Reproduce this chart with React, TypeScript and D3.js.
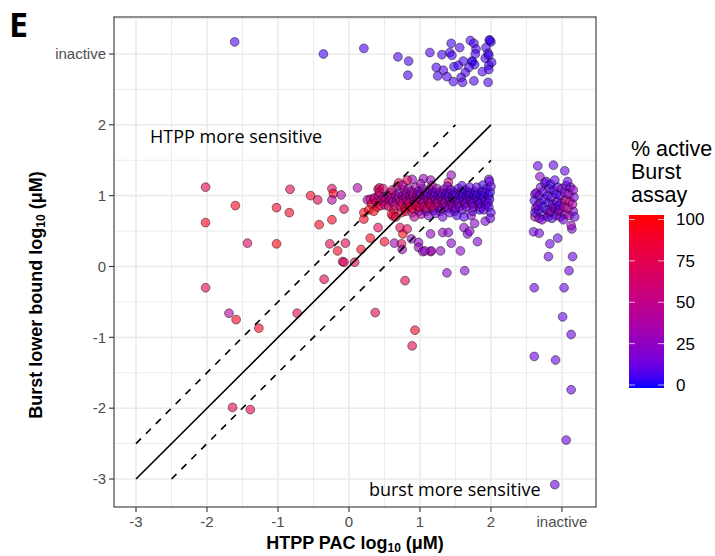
import React from "react";
import * as d3 from "d3";

type P = [number, number, number];

// x, y (log10 µM; 3 = inactive), % active in Burst assay
const topInactive: P[] = [
  [-1.61, 3.17, 6], [-0.36, 3.0, 5], [0.21, 3.08, 5], [0.69, 2.96, 6], [0.84, 2.9, 6],
  [0.83, 2.7, 6], [1.14, 3.02, 7], [1.31, 2.99, 6], [1.23, 2.81, 6], [1.33, 2.77, 7],
  [1.25, 2.69, 6], [1.38, 2.68, 7], [1.42, 3.02, 5], [1.44, 3.15, 4], [1.45, 2.98, 5],
  [1.56, 3.09, 6], [1.48, 2.82, 4], [1.54, 2.84, 5], [1.61, 2.9, 6], [1.64, 2.74, 7],
  [1.58, 2.67, 6], [1.47, 2.61, 7], [1.6, 2.6, 7], [1.71, 3.19, 7], [1.76, 3.15, 5],
  [1.79, 3.07, 6], [1.78, 3.0, 7], [1.74, 2.89, 3], [1.73, 2.9, 3], [1.77, 2.85, 4],
  [1.69, 2.81, 6], [1.76, 2.62, 7], [1.88, 2.75, 6], [1.92, 2.94, 6], [1.93, 3.09, 5],
  [1.98, 3.19, 3], [2.0, 3.17, 3], [1.98, 3.2, 4], [1.96, 3.01, 5], [1.97, 2.98, 4],
  [2.01, 2.88, 4], [1.97, 2.84, 4], [1.97, 2.78, 5], [1.96, 2.6, 7],
];

const rightInactive: P[] = [
  [2.66, 1.42, 12], [2.88, 1.43, 12], [3.04, 1.35, 12], [2.69, 1.27, 22], [2.62, 1.02, 15],
  [2.6, 0.49, 14], [2.68, 0.47, 14], [2.83, 0.32, 12], [2.94, 0.4, 12], [2.81, 0.14, 12],
  [3.15, 0.14, 12], [3.1, -0.06, 12], [2.61, -0.3, 12], [3.03, -0.3, 12], [3.01, -0.71, 12],
  [3.13, -0.96, 12], [2.61, -1.27, 12], [2.91, -1.32, 12], [3.13, -1.74, 12], [3.06, -2.45, 12],
  [2.9, -3.08, 12], [3.14, 0.53, 18], [3.13, 0.58, 28],
  [2.62, 0.7, 40], [2.63, 0.82, 12], [2.61, 0.93, 8], [2.64, 1.04, 18], [2.62, 0.76, 8],
  [2.68, 0.68, 12], [2.67, 0.8, 8], [2.69, 0.9, 5], [2.68, 1.0, 12], [2.7, 1.12, 18], [2.66, 0.86, 22],
  [2.74, 0.72, 8], [2.73, 0.84, 5], [2.75, 0.95, 8], [2.74, 1.06, 12], [2.76, 1.18, 10], [2.72, 0.66, 18],
  [2.8, 0.7, 12], [2.79, 0.8, 8], [2.81, 0.9, 5], [2.8, 1.0, 8], [2.82, 1.1, 12], [2.78, 1.2, 10], [2.83, 0.76, 30],
  [2.86, 0.68, 8], [2.85, 0.78, 18], [2.87, 0.88, 5], [2.86, 0.98, 12], [2.88, 1.08, 8], [2.84, 1.16, 5], [2.88, 0.83, 40],
  [2.92, 0.72, 12], [2.91, 0.82, 8], [2.93, 0.92, 18], [2.92, 1.02, 5], [2.94, 1.12, 12], [2.9, 1.22, 10], [2.95, 0.78, 22],
  [2.98, 0.7, 18], [2.97, 0.8, 30], [2.99, 0.9, 12], [2.98, 1.0, 8], [3.0, 1.1, 18], [2.96, 0.86, 8],
  [3.04, 0.74, 22], [3.03, 0.84, 40], [3.05, 0.94, 50], [3.04, 1.04, 18], [3.06, 1.14, 12], [3.02, 0.66, 12],
  [3.1, 0.72, 35], [3.09, 0.82, 45], [3.11, 0.92, 55], [3.1, 1.02, 28], [3.12, 1.12, 18], [3.08, 1.2, 12],
  [3.16, 0.78, 22], [3.15, 0.88, 35], [3.17, 0.98, 18], [3.16, 1.08, 22], [3.18, 0.7, 12],
];

const scattered: P[] = [
  [-2.02, 1.12, 75], [-2.02, 0.62, 95], [-2.02, -0.3, 75], [-1.6, 0.86, 95], [-1.43, 0.33, 70],
  [-1.02, 0.83, 92], [-1.02, 0.32, 97], [-0.84, 0.76, 93], [-0.83, 1.09, 72], [-0.54, 1.0, 92],
  [-0.44, 0.94, 70], [-0.24, 1.1, 65], [-0.22, 1.03, 95], [-0.11, 1.01, 42], [-0.24, 0.94, 42],
  [-0.07, 0.81, 72], [-0.42, 0.59, 95], [-0.24, 0.66, 92], [-0.27, 0.32, 72], [-0.05, 0.33, 72],
  [-0.16, 0.22, 95], [-0.09, 0.07, 65], [-0.35, -0.18, 72], [-1.69, -0.66, 40], [-1.59, -0.75, 95],
  [-1.27, -0.87, 95], [-0.73, -0.66, 75], [0.37, -0.65, 78], [0.79, -0.2, 75], [0.93, -0.9, 92],
  [0.89, -1.12, 78], [-1.64, -1.99, 72], [-1.39, -2.02, 78],
  [0.41, 1.09, 75], [0.26, 0.94, 38], [0.35, 0.95, 75], [0.21, 0.67, 95], [0.41, 0.55, 72],
  [0.62, 0.71, 92], [0.3, 0.4, 95], [0.5, 0.35, 92], [0.17, 0.24, 92], [0.08, 0.06, 72],
  [-0.07, 0.06, 72], [0.76, 0.46, 98], [0.72, 0.55, 72], [0.82, 0.53, 70], [0.64, 0.33, 30],
  [0.74, 0.32, 72], [0.88, 0.39, 25], [0.75, 0.24, 28], [0.98, 0.34, 25], [0.98, 0.27, 25],
  [1.04, 0.21, 25], [1.15, 0.46, 25], [1.15, 0.21, 60], [1.29, 0.22, 25], [1.32, 0.48, 25],
  [1.4, 0.48, 22], [1.44, 0.33, 22], [1.62, 0.55, 22], [1.67, 0.46, 18], [1.7, 0.5, 20],
  [1.81, 0.35, 18], [1.57, 0.22, 22], [1.38, -0.09, 20], [1.63, -0.06, 20], [0.89, 1.23, 28],
  [1.05, 1.24, 28], [1.15, 1.22, 28], [1.4, 1.19, 65], [1.44, 1.29, 28], [1.97, 1.23, 20],
  [1.92, 0.64, 18], [1.77, 0.61, 22], [1.72, 0.72, 20], [1.16, 0.22, 22], [1.07, 0.22, 25],
  [0.12, 1.11, 35], [0.43, 1.11, 72], [0.21, 0.76, 97],
];

const mainCluster: P[] = [
  [0.3, 0.95, 50], [0.32, 0.88, 85], [0.28, 0.8, 95],
  [0.36, 0.97, 50], [0.38, 0.9, 70], [0.35, 0.78, 97], [0.4, 0.84, 92],
  [0.42, 1.0, 40], [0.44, 0.93, 55], [0.45, 0.86, 78], [0.43, 1.05, 65],
  [0.49, 0.98, 35], [0.5, 0.92, 50], [0.52, 0.96, 70], [0.51, 0.87, 45], [0.48, 1.1, 60],
  [0.55, 1.0, 30], [0.57, 0.93, 45], [0.56, 0.85, 65], [0.58, 1.04, 50],
  [0.6, 0.97, 40], [0.62, 0.91, 35], [0.61, 1.08, 65], [0.63, 0.8, 78], [0.6, 0.74, 88],
  [0.66, 1.0, 45], [0.67, 0.94, 30], [0.65, 0.86, 55], [0.68, 1.13, 35], [0.66, 0.7, 72],
  [0.7, 0.98, 35], [0.72, 0.92, 50], [0.71, 1.04, 25], [0.73, 0.84, 70], [0.7, 1.18, 78], [0.74, 0.76, 85],
  [0.76, 1.0, 40], [0.77, 0.95, 30], [0.75, 0.89, 60], [0.78, 1.08, 45], [0.79, 0.82, 88], [0.76, 1.15, 35],
  [0.8, 0.98, 50], [0.82, 0.93, 35], [0.81, 1.03, 25], [0.83, 0.87, 75], [0.8, 0.78, 82], [0.84, 1.1, 40], [0.82, 1.22, 70],
  [0.86, 1.0, 30], [0.87, 0.95, 45], [0.85, 0.9, 60], [0.88, 1.06, 20], [0.86, 0.84, 80], [0.89, 0.76, 55],
  [0.9, 0.99, 40], [0.92, 0.94, 25], [0.91, 1.04, 50], [0.93, 0.88, 65], [0.9, 0.82, 88], [0.94, 1.12, 35], [0.92, 0.7, 45],
  [0.96, 1.0, 30], [0.97, 0.96, 45], [0.95, 0.91, 55], [0.98, 1.06, 20], [0.96, 0.85, 75], [0.99, 0.78, 30],
  [1.0, 0.99, 35], [1.02, 0.94, 50], [1.01, 1.03, 25], [1.03, 0.88, 60], [1.0, 0.83, 80], [1.04, 1.1, 20], [1.02, 0.74, 40], [1.01, 1.17, 30],
  [1.06, 1.0, 30], [1.07, 0.95, 20], [1.05, 0.9, 45], [1.08, 1.05, 35], [1.06, 0.84, 60], [1.09, 0.78, 15],
  [1.1, 0.98, 25], [1.12, 0.93, 40], [1.11, 1.03, 15], [1.13, 0.88, 55], [1.1, 0.82, 70], [1.14, 1.09, 30], [1.12, 0.72, 20],
  [1.16, 1.0, 20], [1.17, 0.95, 35], [1.15, 0.9, 50], [1.18, 1.06, 15], [1.16, 0.85, 65], [1.19, 0.79, 25], [1.17, 1.14, 40],
  [1.2, 0.99, 20], [1.22, 0.94, 30], [1.21, 1.04, 12], [1.23, 0.89, 45], [1.2, 0.83, 60], [1.24, 1.1, 25], [1.22, 0.75, 15],
  [1.26, 1.0, 15], [1.27, 0.95, 25], [1.25, 0.9, 40], [1.28, 1.05, 20], [1.26, 0.85, 55], [1.29, 0.78, 12],
  [1.3, 0.98, 15], [1.32, 0.93, 30], [1.31, 1.03, 12], [1.33, 0.88, 45], [1.3, 0.82, 20], [1.34, 1.09, 25], [1.32, 0.7, 15],
  [1.36, 1.0, 12], [1.37, 0.95, 20], [1.35, 0.9, 35], [1.38, 1.05, 15], [1.36, 0.84, 50], [1.39, 1.13, 20],
  [1.4, 0.98, 12], [1.42, 0.93, 25], [1.41, 1.03, 8], [1.43, 0.88, 30], [1.4, 0.82, 15], [1.44, 1.08, 20], [1.42, 0.76, 12],
  [1.46, 1.0, 12], [1.47, 0.95, 15], [1.45, 0.9, 25], [1.48, 1.05, 8], [1.46, 0.84, 35], [1.49, 0.78, 12],
  [1.5, 0.98, 8], [1.52, 0.93, 20], [1.51, 1.03, 12], [1.53, 0.88, 30], [1.5, 0.82, 15], [1.54, 1.1, 12], [1.52, 0.72, 8],
  [1.56, 1.0, 12], [1.57, 0.95, 8], [1.55, 0.9, 20], [1.58, 1.05, 15], [1.56, 0.84, 25], [1.59, 1.14, 8],
  [1.6, 0.98, 8], [1.62, 0.93, 15], [1.61, 1.03, 5], [1.63, 0.88, 25], [1.6, 0.8, 12], [1.64, 1.08, 12], [1.62, 0.7, 8],
  [1.66, 1.0, 8], [1.67, 0.95, 12], [1.65, 0.9, 20], [1.68, 1.05, 5], [1.66, 0.84, 15],
  [1.7, 0.98, 8], [1.72, 0.93, 15], [1.71, 1.04, 12], [1.73, 0.88, 20], [1.7, 1.12, 8], [1.74, 0.78, 12],
  [1.76, 1.0, 5], [1.77, 0.95, 12], [1.75, 0.9, 15], [1.78, 1.06, 8], [1.76, 0.84, 20],
  [1.8, 0.98, 8], [1.82, 0.93, 12], [1.81, 1.03, 5], [1.83, 0.88, 15], [1.8, 1.12, 12], [1.84, 0.8, 8],
  [1.86, 1.0, 5], [1.87, 0.94, 8], [1.85, 0.89, 12], [1.88, 1.06, 8], [1.86, 0.83, 15], [1.89, 1.15, 5],
  [1.9, 0.98, 8], [1.92, 0.92, 12], [1.91, 1.04, 5], [1.93, 0.87, 8], [1.9, 0.8, 12], [1.94, 1.1, 8],
  [1.97, 1.0, 5], [1.98, 0.95, 8], [1.96, 0.9, 12], [1.99, 1.05, 5], [1.97, 0.84, 8], [2.0, 1.13, 8],
  [1.98, 1.2, 12], [2.0, 0.76, 8], [1.99, 0.68, 12],
];

const xTickValues = [-3, -2, -1, 0, 1, 2, 3];
const xTickLabels = ["-3", "-2", "-1", "0", "1", "2", "inactive"];
const yTickValues = [-3, -2, -1, 0, 1, 2, 3];
const yTickLabels = ["-3", "-2", "-1", "0", "1", "2", "inactive"];
const legendTicks = [0, 25, 50, 75, 100];
const legendTitle = ["% active", "Burst", "assay"];

const W = 715, H = 556;
const panel = { left: 114, right: 596, top: 17, bottom: 507 };

export default function App() {
  const x = d3.scaleLinear().domain([-3.31, 3.48]).range([panel.left, panel.right]);
  const y = d3.scaleLinear().domain([-3.395, 3.522]).range([panel.bottom, panel.top]);
  const color = d3.scaleLinear<string>().domain([0, 100]).range(["blue", "red"]).interpolate(d3.interpolateLab);

  const minor = d3.range(-3.5, 4, 1);
  const xMinor = minor.filter((v) => v > x.domain()[0] && v < x.domain()[1]);
  const yMinor = minor.filter((v) => v > y.domain()[0] && v < y.domain()[1]);

  const allPts: P[] = [...scattered, ...mainCluster, ...topInactive, ...rightInactive];

  const line = d3.line<[number, number]>().x((d) => x(d[0])).y((d) => y(d[1]));
  const diag: [number, number][] = [[-3, -3], [2, 2]];
  const upper: [number, number][] = [[-3, -2.5], [1.5, 2]];
  const lower: [number, number][] = [[-2.5, -3], [2, 1.5]];

  const lg = { x: 629, w: 35, top: 215, bottom: 388 };
  const ly = d3.scaleLinear().domain([0, 100]).range([385, 219.5]);
  const stops = d3.range(0, 21).map((i) => {
    const py = lg.bottom - (i / 20) * (lg.bottom - lg.top);
    const v = Math.max(0, Math.min(100, ly.invert(py)));
    return { off: i / 20, c: color(v) };
  });

  const tickFont = "'Liberation Sans', Arial, sans-serif";

  return (
    <svg width={W} height={H} style={{ position: "absolute", left: 0, top: 0, background: "#fff" }}>
      <defs>
        <linearGradient id="lgGrad" x1="0" y1="1" x2="0" y2="0">
          {stops.map((s, i) => (
            <stop key={i} offset={s.off} stopColor={s.c} />
          ))}
        </linearGradient>
        <clipPath id="panelClip">
          <rect x={panel.left} y={panel.top} width={panel.right - panel.left} height={panel.bottom - panel.top} />
        </clipPath>
      </defs>
      <rect x={0} y={0} width={W} height={H} fill="#fff" />
      <text x={9} y={37} fontFamily="'Open Sans', sans-serif" fontWeight={700} fontSize={34} fill="#000">E</text>

      {/* grid */}
      <g>
        {xMinor.map((v) => (
          <line key={"xm" + v} x1={x(v)} x2={x(v)} y1={panel.top} y2={panel.bottom} stroke="#ebebeb" strokeWidth={1} />
        ))}
        {yMinor.map((v) => (
          <line key={"ym" + v} y1={y(v)} y2={y(v)} x1={panel.left} x2={panel.right} stroke="#ebebeb" strokeWidth={1} />
        ))}
        {xTickValues.map((v) => (
          <line key={"xM" + v} x1={x(v)} x2={x(v)} y1={panel.top} y2={panel.bottom} stroke="#ebebeb" strokeWidth={1.6} />
        ))}
        {yTickValues.map((v) => (
          <line key={"yM" + v} y1={y(v)} y2={y(v)} x1={panel.left} x2={panel.right} stroke="#ebebeb" strokeWidth={1.6} />
        ))}
      </g>

      <g clipPath="url(#panelClip)">
        {allPts.map((p, i) => (
          <circle key={i} cx={x(p[0])} cy={y(p[1])} r={4.4} fill={color(p[2])} fillOpacity={0.6}
            stroke="#000" strokeOpacity={0.65} strokeWidth={0.7} />
        ))}
        <path d={line(diag) || ""} stroke="#000" strokeWidth={1.6} fill="none" />
        <path d={line(upper) || ""} stroke="#000" strokeWidth={1.6} fill="none" strokeDasharray="7,7" />
        <path d={line(lower) || ""} stroke="#000" strokeWidth={1.6} fill="none" strokeDasharray="7,7" />
        <text x={x(-1.59)} y={y(1.84)} textAnchor="middle" dominantBaseline="central"
          fontFamily="'Open Sans', sans-serif" fontSize={18} fill="#000">HTPP more sensitive</text>
        <text x={x(1.49)} y={y(-3.14)} textAnchor="middle" dominantBaseline="central"
          fontFamily="'Open Sans', sans-serif" fontSize={18} fill="#000">burst more sensitive</text>
      </g>

      <rect x={panel.left} y={panel.top} width={panel.right - panel.left} height={panel.bottom - panel.top}
        fill="none" stroke="#333" strokeWidth={1.1} />

      {/* x axis */}
      <g>
        {xTickValues.map((v, i) => (
          <g key={"xt" + v}>
            <line x1={x(v)} x2={x(v)} y1={panel.bottom} y2={panel.bottom + 5} stroke="#333" strokeWidth={1.1} />
            <text x={x(v)} y={panel.bottom + 20} textAnchor="middle" fontFamily={tickFont} fontSize={15} fill="#4d4d4d">
              {xTickLabels[i]}
            </text>
          </g>
        ))}
      </g>
      {/* y axis */}
      <g>
        {yTickValues.map((v, i) => (
          <g key={"yt" + v}>
            <line x1={panel.left - 5} x2={panel.left} y1={y(v)} y2={y(v)} stroke="#333" strokeWidth={1.1} />
            <text x={panel.left - 8} y={y(v)} dy="0.35em" textAnchor="end" fontFamily={tickFont} fontSize={15} fill="#4d4d4d">
              {yTickLabels[i]}
            </text>
          </g>
        ))}
      </g>

      <text x={355} y={549} textAnchor="middle" fontFamily={tickFont} fontWeight={700} fontSize={18} fill="#000">
        HTPP PAC log<tspan fontSize={12} dy={3}>10</tspan><tspan dy={-3}> (μM)</tspan>
      </text>
      <text transform="translate(42,295) rotate(-90)" textAnchor="middle" fontFamily={tickFont} fontWeight={700} fontSize={18} fill="#000">
        Burst lower bound log<tspan fontSize={12} dy={3}>10</tspan><tspan dy={-3}> (μM)</tspan>
      </text>

      {/* legend */}
      <g>
        {legendTitle.map((t, i) => (
          <text key={t} x={631} y={156 + i * 23} fontFamily={tickFont} fontSize={21.5} fill="#000">{t}</text>
        ))}
        <rect x={lg.x} y={lg.top} width={lg.w} height={lg.bottom - lg.top} fill="url(#lgGrad)" />
        {legendTicks.map((v) => (
          <g key={"lt" + v}>
            <line x1={lg.x} x2={lg.x + 6} y1={ly(v)} y2={ly(v)} stroke="#fff" strokeOpacity={0.7} strokeWidth={1} />
            <line x1={lg.x + lg.w - 6} x2={lg.x + lg.w} y1={ly(v)} y2={ly(v)} stroke="#fff" strokeOpacity={0.7} strokeWidth={1} />
            <text x={676} y={ly(v)} dy="0.35em" fontFamily={tickFont} fontSize={17} fill="#000">{v}</text>
          </g>
        ))}
      </g>
    </svg>
  );
}
